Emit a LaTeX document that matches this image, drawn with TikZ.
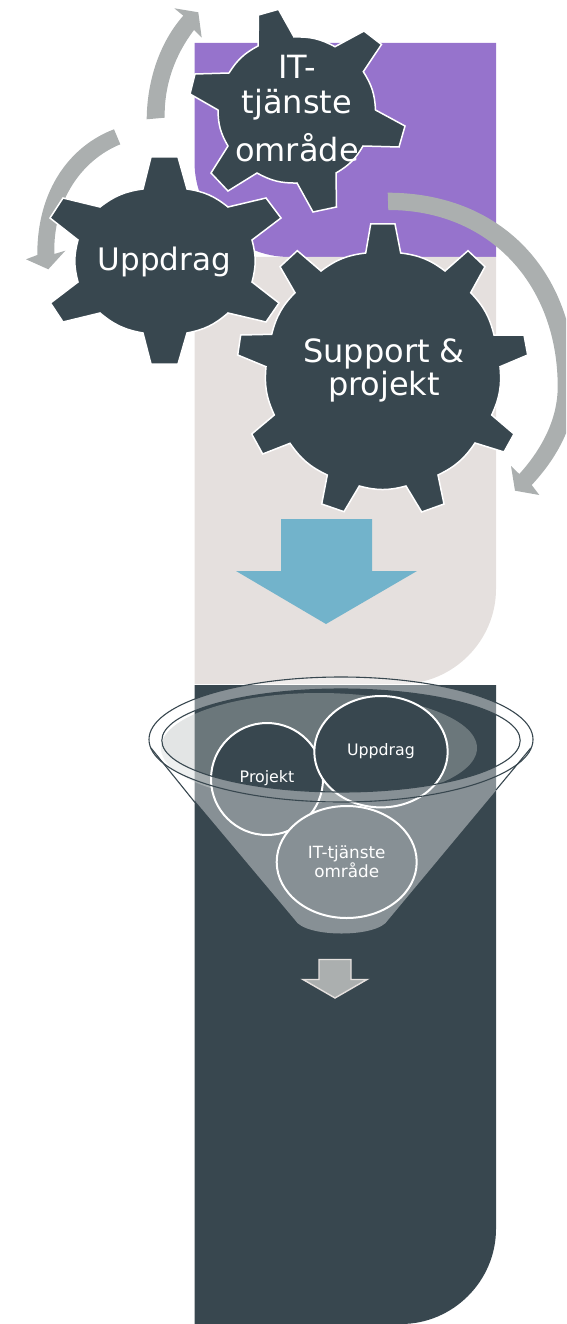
\documentclass[tikz,border=0pt]{standalone}
\usepackage{fontspec}
\setmainfont{DejaVu Sans}
\definecolor{darkslate}{HTML}{38474F}
\definecolor{purplebg}{HTML}{9673CC}
\definecolor{beigebg}{HTML}{E5E0DE}
\definecolor{bluearrow}{HTML}{72B3CB}
\definecolor{grayarrow}{HTML}{ABAFAF}
\definecolor{haze}{HTML}{B9BFBF}
\tikzset{
  gearshape/.style={fill=darkslate,draw=white,line width=1.5pt,line join=miter},
  body/.style={bend left=15},
  geartext/.style={text=white,align=center,font=\fontsize{32}{33}\selectfont,inner sep=0pt},
  bandarrow/.style={fill=grayarrow,draw=none},
  funnelcircle/.style={fill=darkslate,draw=white,line width=2pt},
  funneltext/.style={text=white,align=center,font=\fontsize{15.8}{16.5}\selectfont,inner sep=0pt},
  outline/.style={draw=darkslate,line width=1.1pt}
}
\begin{document}
\begin{tikzpicture}[x=1pt,y=-1pt]
\useasboundingbox (0,0) rectangle (566,1324);
\clip (0,0) rectangle (566,1324);
% panels
\fill[purplebg] (194.5,43) -- (496,43) -- (496,257) -- (289.5,257) .. controls (237,257) and (194.5,214) .. (194.5,162) -- cycle;
\fill[beigebg] (194.5,257) -- (496,257) -- (496,589) .. controls (496,641) and (453,684) .. (401,684) -- (194.5,684) -- cycle;
\fill[darkslate] (194.5,685) -- (496,685) -- (496,1229) .. controls (496,1281) and (453,1324) .. (401,1324) -- (194.5,1324) -- cycle;
% curved arrows
\fill[bandarrow] (387.7,192.7) .. controls (500,192.7) and (575.7,270) .. (575.7,386.7)
  .. controls (575.7,425) and (556,459) .. (531.7,485)
  -- (539.3,495) -- (515,490.7) -- (511,466) -- (519.3,474)
  .. controls (541,450) and (557.7,420) .. (557.7,386.7)
  .. controls (557.7,285) and (490,210) .. (388.3,210) -- cycle;
\fill[bandarrow] (114,129.3) .. controls (70,146) and (37,190) .. (37.3,255)
  -- (26,259.3) -- (48.3,269.3) -- (65.3,250.7) -- (54.3,254)
  .. controls (53,200) and (82,160) .. (120.3,144.3) -- cycle;
\fill[bandarrow] (146.7,119.3) .. controls (147,80) and (160,42) .. (183.3,15.7)
  -- (174.3,8.3) -- (198.3,12.3) -- (201.7,37.7) -- (194,30)
  .. controls (175,55) and (164,85) .. (164.7,117.7) -- cycle;
% gears
\draw[gearshape] (258.5,15) -- (278.5,9.3) -- (294,37) to[body] (335,46.7) -- (364,31) -- (381.5,44.5) -- (363.3,71.7)
  to[body] (375.5,110) -- (405,126) -- (399,147) -- (363,146)
  to[body] (336,173) -- (336.5,207) -- (313,212) -- (297,183)
  to[body] (257,173) -- (228,191) -- (211,173) -- (228,146)
  to[body] (218,110) -- (190,94) -- (195,74) -- (229,73)
  to[body] (258,46) -- cycle;
\node[geartext] (ittext) at (297,108.5) {IT-\\[2pt]tjänste\\[13pt]område};
\draw[gearshape] (151,157) -- (178,157) -- (187,189) to[body] (228,207) -- (266,198) -- (281,218) -- (252,240)
  to[body] (252,282) -- (279,303) -- (266,322) -- (228,313)
  to[body] (187,333) -- (178,364) -- (151,364) -- (143,333)
  to[body] (100,313) -- (63,322) -- (50.5,303) -- (78,282)
  to[body] (78,240) -- (50,218) -- (63,198) -- (100,207)
  to[body] (143,189) -- cycle;
\node[geartext,font=\fontsize{31}{33}\selectfont] (uppdragtext) at (164.5,262) {Uppdrag};
\draw[gearshape] (370.7,224) -- (395,224) -- (400.7,253) to[body] (445,271) -- (468,250.7) -- (485,266.7) -- (470.7,292.7)
  to[body] (494,335) -- (524,335) -- (527.7,355) -- (500,366.7)
  to[body] (491.7,415) -- (514,434) -- (504,452) -- (475,443)
  to[body] (438,475) -- (444,504) -- (421.7,512) -- (406,486)
  to[body] (359.3,486) -- (344,511.7) -- (321.7,504) -- (327.3,475)
  to[body] (290,443.3) -- (262.7,454) -- (251.7,434) -- (274.3,415)
  to[body] (266,366.7) -- (237.7,355) -- (240.7,335) -- (271.7,334.3)
  to[body] (295,292.7) -- (280,266.7) -- (297.3,250.7) -- (321,271)
  to[body] (365.7,253) -- cycle;
\node[geartext] (supporttext) at (384,370.5) {Support \&\\projekt};
% blue arrow
\fill[bluearrow] (281,519) -- (372,519) -- (372,571) -- (417,571) -- (326,624) -- (236,571) -- (281,571) -- cycle;
% funnel contents
\fill[haze,fill opacity=0.4] (319,748) ellipse [x radius=158,y radius=55];
\draw[funnelcircle] (267,779) ellipse [x radius=56,y radius=56];
\node[funneltext] (projekttext) at (267,778) {Projekt};
\draw[funnelcircle] (381,751.7) ellipse [x radius=66.7,y radius=55.7];
\node[funneltext] (uppdragsmall) at (381,751) {Uppdrag};
\draw[funnelcircle] (346.7,862) ellipse [x radius=70,y radius=56];
\node[funneltext,font=\fontsize{16.8}{16.5}\selectfont] (ittsmall) at (346.7,862) {IT-tjänste\\område};
% funnel body over them
\fill[white,fill opacity=0.4,even odd rule] plot[domain=172:368,samples=80] ({341+192*cos(\x)},{739.5+62.5*sin(\x)})
  -- (388,920) .. controls (378,938) and (305,938) .. (295,920) -- cycle
  (341,740.5) ellipse [x radius=179.2,y radius=51.5];
\draw[outline] (341,739.5) ellipse [x radius=192,y radius=62.5];
\draw[outline] (341,740.5) ellipse [x radius=179.2,y radius=51.5];
\draw[outline] (151,748) -- (195,802.5);
\draw[outline] (530.8,748) -- (496,790);
% small arrow
\draw[fill=grayarrow,draw=beigebg,line width=1.4pt] (319,959.5) -- (351,959.5) -- (351,979.5) -- (367,979.5) -- (335,998) -- (303,979.5) -- (319,979.5) -- cycle;
\end{tikzpicture}
\end{document}
